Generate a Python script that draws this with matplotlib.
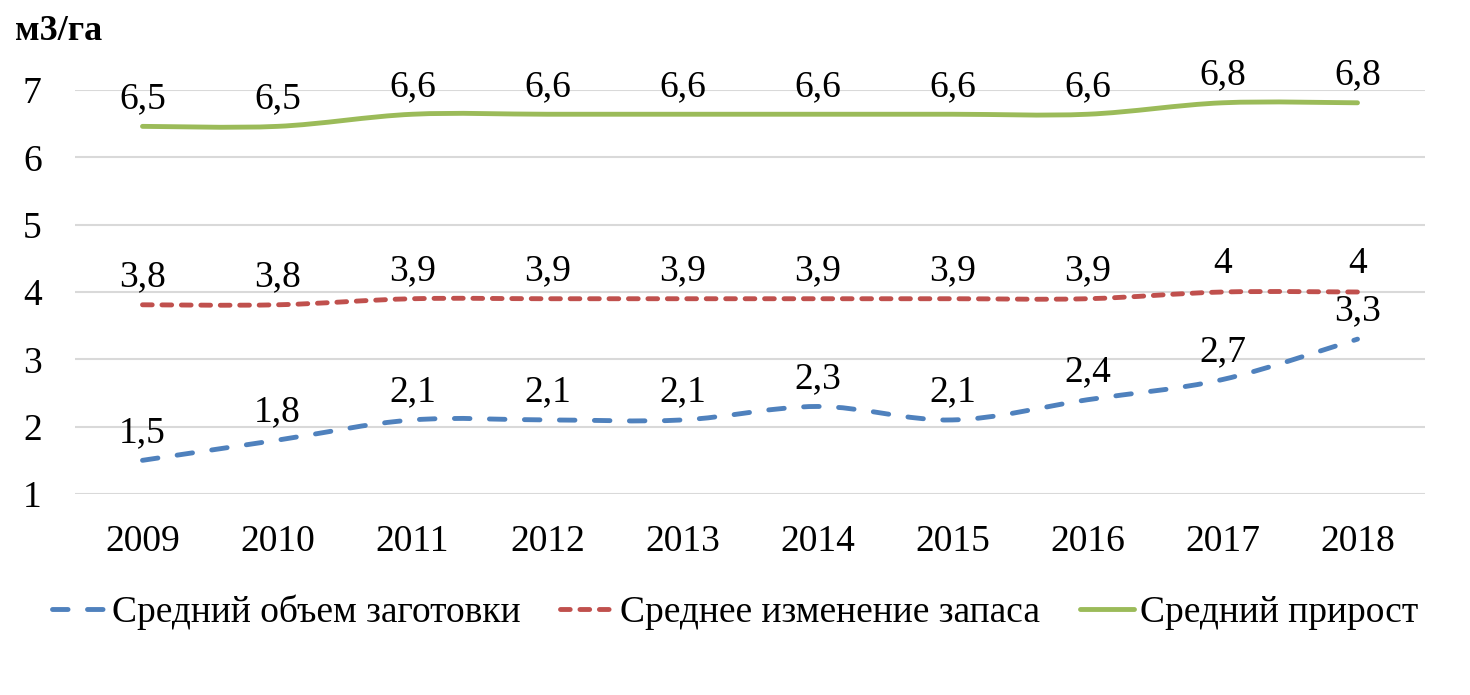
import matplotlib
matplotlib.use("Agg")
import matplotlib.pyplot as plt
import numpy as np
from matplotlib.path import Path
from matplotlib.patches import PathPatch
from matplotlib.lines import Line2D

years = ["2009", "2010", "2011", "2012", "2013", "2014", "2015", "2016", "2017", "2018"]
harvest = [1.5, 1.8, 2.1, 2.1, 2.1, 2.3, 2.1, 2.4, 2.7, 3.3]
stock_change = [3.81, 3.81, 3.9, 3.9, 3.9, 3.9, 3.9, 3.9, 4.0, 4.0]
increment = [6.46, 6.46, 6.64, 6.64, 6.64, 6.64, 6.64, 6.64, 6.81, 6.81]
series_names = ["Средний объем заготовки", "Среднее изменение запаса", "Средний прирост"]
y_ticks = [1, 2, 3, 4, 5, 6, 7]

plt.rcParams['font.family'] = ['Liberation Serif', 'DejaVu Serif']

fig = plt.figure(figsize=(14.7, 6.95), dpi=100)
ax = fig.add_axes([75/1470, 1-494/695, 1350/1470, 404/695])

colors = ["#4F81BD", "#C0504D", "#9BBB59"]
dashes = [(3.2, 4.0), (2.0, 2.0), None]
lw = 3.5
FS = 27


def smooth_path(x, y, t=1/6):
    x = np.asarray(x, float); y = np.asarray(y, float)
    n = len(x)
    verts = [(x[0], y[0])]
    codes = [Path.MOVETO]
    for i in range(n - 1):
        p0 = np.array([x[max(i-1, 0)], y[max(i-1, 0)]])
        p1 = np.array([x[i], y[i]])
        p2 = np.array([x[i+1], y[i+1]])
        p3 = np.array([x[min(i+2, n-1)], y[min(i+2, n-1)]])
        c1 = p1 + (p2 - p0) * t
        c2 = p2 - (p3 - p1) * t
        verts += [tuple(c1), tuple(c2), tuple(p2)]
        codes += [Path.CURVE4] * 3
    return Path(verts, codes)


xs = np.arange(len(years))
handles = []
for vals, c, d, name in zip([harvest, stock_change, increment], colors, dashes, series_names):
    patch = PathPatch(smooth_path(xs, vals), fill=False, edgecolor=c, lw=lw,
                      capstyle='round', joinstyle='round', zorder=3)
    if d is not None:
        patch.set_linestyle((0, d))
    ax.add_patch(patch)
    ln = Line2D([], [], color=c, lw=lw, solid_capstyle='round', dash_capstyle='round')
    if d is not None:
        ln.set_dashes(d)
    handles.append(ln)
    for xi, v in zip(xs, vals):
        r = round(v, 1)
        s = (f"{r:.0f}" if abs(r - round(r)) < 1e-9 else f"{r:.1f}").replace('.', ',')
        ax.annotate(s, (xi, v), xytext=(0, 20), textcoords='offset points',
                    ha='center', va='center', fontsize=FS, zorder=4, annotation_clip=False)

ax.set_xlim(-0.5, len(years) - 0.5)
ax.set_ylim(1, 7)
ax.set_yticks(y_ticks)
ax.set_yticklabels([str(t) for t in y_ticks], fontsize=FS)
ax.set_xticks(xs)
ax.set_xticklabels(years, fontsize=FS)
ax.tick_params(axis='both', length=0)
ax.tick_params(axis='y', pad=24)
ax.tick_params(axis='x', pad=22)
ax.grid(axis='y', color='#D9D9D9', lw=1.5, zorder=0)
for sp in ax.spines.values():
    sp.set_visible(False)

fig.text(15/1470, 1-32/695, "м3/га", fontsize=FS - 1, fontweight='bold', ha='left', va='center')

fig.legend(handles, series_names, loc='center', bbox_to_anchor=(0.5, 1-612/695), ncol=3,
           frameon=False, fontsize=FS, handlelength=1.45, handletextpad=0.15, columnspacing=1.05)

fig.savefig("out.png", dpi=100)
